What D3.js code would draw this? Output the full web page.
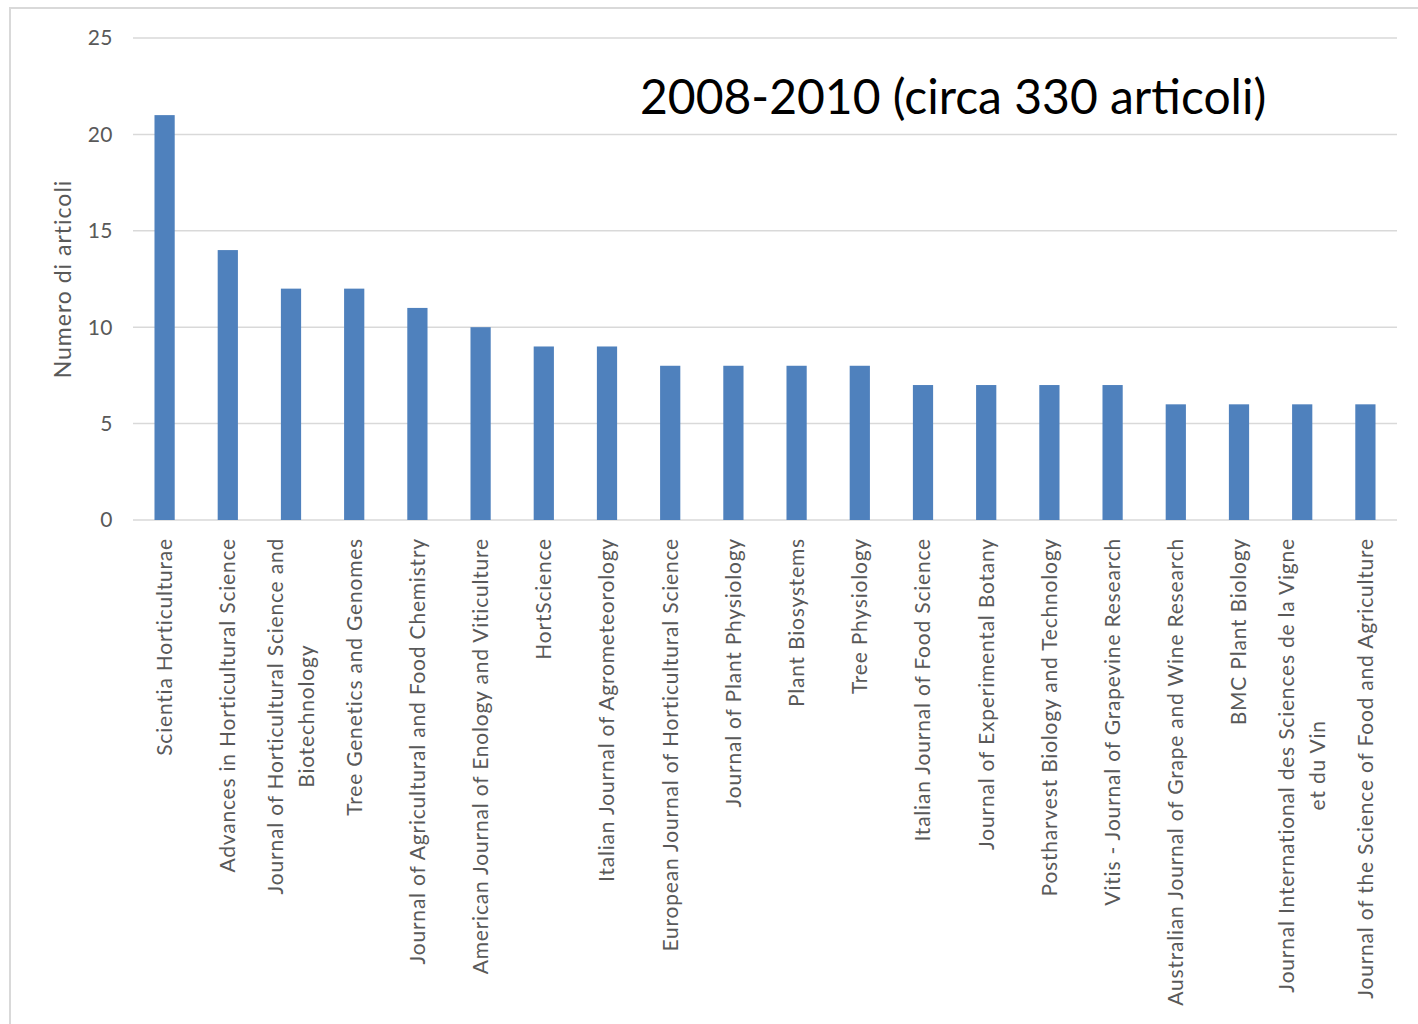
<!DOCTYPE html>
<html>
<head>
<meta charset="utf-8">
<script src="https://cdn.jsdelivr.net/npm/d3@7"></script>
<style>
  body { margin: 0; background: #fff; }
  svg { display: block; }
</style>
</head>
<body>
<script>
// chart data
var journals = [
  ["Scientia Horticulturae"],
  ["Advances in Horticultural Science"],
  ["Journal of Horticultural Science and", "Biotechnology"],
  ["Tree Genetics and Genomes"],
  ["Journal of Agricultural and Food Chemistry"],
  ["American Journal of Enology and Viticulture"],
  ["HortScience"],
  ["Italian Journal of Agrometeorology"],
  ["European Journal of Horticultural Science"],
  ["Journal of Plant Physiology"],
  ["Plant Biosystems"],
  ["Tree Physiology"],
  ["Italian Journal of Food Science"],
  ["Journal of Experimental Botany"],
  ["Postharvest Biology and Technology"],
  ["Vitis - Journal of Grapevine Research"],
  ["Australian Journal of Grape and Wine Research"],
  ["BMC Plant Biology"],
  ["Journal International des Sciences de la Vigne", "et du Vin"],
  ["Journal of the Science of Food and Agriculture"]
];
var articles = [21, 14, 12, 12, 11, 10, 9, 9, 8, 8, 8, 8, 7, 7, 7, 7, 6, 6, 6, 6];
var yTicks = [0, 5, 10, 15, 20, 25];
var chartTitle = "2008-2010 (circa 330 articoli)";
var yTitle = "Numero di articoli";

var w = 1418, h = 1024;
var font = "Lato, 'Open Sans', sans-serif";

var svg = d3.select("body").append("svg")
  .attr("width", w)
  .attr("height", h);

// outer frame
svg.append("rect")
  .attr("x", 10).attr("y", 8)
  .attr("width", w + 20).attr("height", h + 20)
  .attr("fill", "#fff")
  .attr("stroke", "#d9d9d9")
  .attr("stroke-width", 2);

var x = d3.scaleBand()
  .domain(d3.range(journals.length))
  .range([133, 1397])
  .paddingInner(0.68)
  .paddingOuter(0.34);

var y = d3.scaleLinear()
  .domain([0, 25])
  .range([520, 38]);

// grid
svg.append("g").selectAll("line.grid")
  .data(yTicks)
  .enter().append("line")
    .attr("class", "grid")
    .attr("x1", 133).attr("x2", 1397)
    .attr("y1", function(d) { return y(d); })
    .attr("y2", function(d) { return y(d); })
    .attr("stroke", "#d9d9d9")
    .attr("stroke-width", 1.5);

// y tick labels
svg.append("g").selectAll("text.tick")
  .data(yTicks)
  .enter().append("text")
    .attr("class", "tick")
    .attr("x", 113)
    .attr("y", function(d) { return y(d); })
    .attr("dy", "0.35em")
    .attr("text-anchor", "end")
    .attr("font-family", font)
    .attr("font-size", 21)
    .attr("letter-spacing", 0.5)
    .attr("fill", "#595959")
    .text(function(d) { return d; });

// bars
svg.append("g").selectAll("rect.bar")
  .data(articles)
  .enter().append("rect")
    .attr("class", "bar")
    .attr("x", function(d, i) { return x(i); })
    .attr("width", x.bandwidth())
    .attr("y", function(d) { return y(d); })
    .attr("height", function(d) { return y(0) - y(d); })
    .attr("fill", "#4f81bd");

// category labels, rotated
var lineH = 31;
var labels = svg.append("g").selectAll("g.lab")
  .data(journals)
  .enter().append("g")
    .attr("class", "lab")
    .attr("transform", function(d, i) {
      return "translate(" + (x(i) + x.bandwidth() / 2) + ",538) rotate(-90)";
    });

labels.each(function(lines) {
  var g = d3.select(this);
  var n = lines.length;
  var first = g.append("text")
    .attr("x", 0)
    .attr("y", (0 - (n - 1) / 2) * lineH)
    .attr("dy", "0.35em")
    .attr("text-anchor", "end")
    .attr("font-family", font)
    .attr("font-size", 21)
    .attr("letter-spacing", 0.8)
    .attr("fill", "#595959")
    .text(lines[0]);
  var len = first.node().getComputedTextLength();
  for (var k = 1; k < n; k++) {
    g.append("text")
      .attr("x", -len / 2)
      .attr("y", (k - (n - 1) / 2) * lineH)
      .attr("dy", "0.35em")
      .attr("text-anchor", "middle")
      .attr("font-family", font)
      .attr("font-size", 21)
      .attr("letter-spacing", 0.8)
      .attr("fill", "#595959")
      .text(lines[k]);
  }
});

// y axis title
svg.append("text")
  .attr("transform", "translate(63," + ((y(0) + y(25)) / 2) + ") rotate(-90)")
  .attr("dy", "0.35em")
  .attr("text-anchor", "middle")
  .attr("font-family", font)
  .attr("font-size", 23)
  .attr("letter-spacing", 1)
  .attr("fill", "#595959")
  .text(yTitle);

// chart title
svg.append("text")
  .attr("x", 640)
  .attr("y", 114)
  .attr("font-family", font)
  .attr("font-size", 48)
  .attr("fill", "#000")
  .text(chartTitle);
</script>
</body>
</html>
